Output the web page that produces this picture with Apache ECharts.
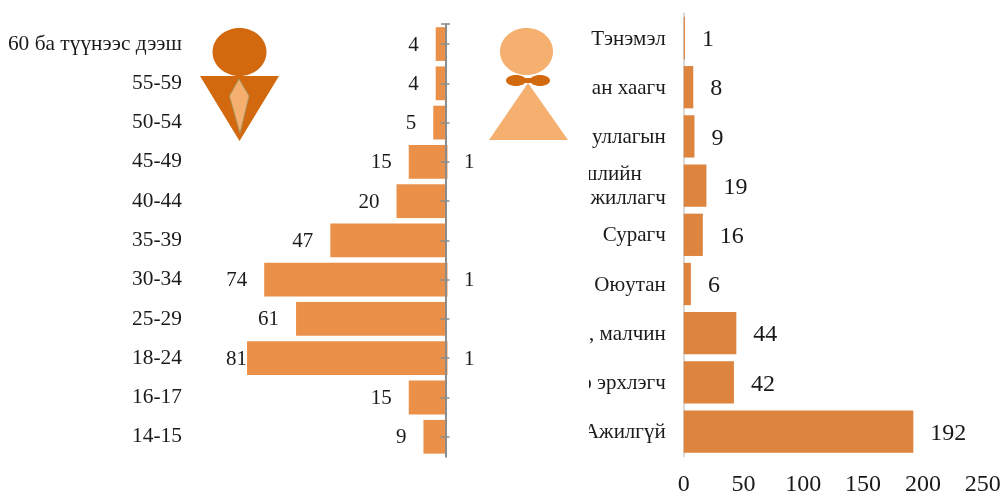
<!DOCTYPE html>
<html>
<head>
<meta charset="utf-8">
<style>
html, body { margin: 0; padding: 0; background: #fff; }
#chart { width: 1003px; height: 492px; }
</style>
<script src="https://cdn.jsdelivr.net/npm/echarts@6/dist/echarts.min.js"></script>
</head>
<body>
<div id="chart"></div>
<script>
var ageGroups = ['60 ба түүнээс дээш', '55-59', '50-54', '45-49', '40-44', '35-39', '30-34', '25-29', '18-24', '16-17', '14-15'];
var maleCounts = [4, 4, 5, 15, 20, 47, 74, 61, 81, 15, 9];
var femaleCounts = [null, null, null, 1, null, null, 1, null, 1, null, null];

var occupations = ['Тэнэмэл', 'ан хаагч', 'уллагын', 'шлийн\nжиллагч', 'Сурагч', 'Оюутан', ', малчин', 'о эрхлэгч', 'Ажилгүй'];
var occupationCounts = [1, 8, 9, 19, 16, 6, 44, 42, 192];

var serif = '"Liberation Serif", "Times New Roman", serif';
var textColor = '#1a1a1a';
var dark = '#D2690E', light = '#F5B070';
var axisGray = '#8c8c8c';

var myChart = echarts.init(document.getElementById('chart'), null, { renderer: 'canvas' });

var option = {
    animation: false,
    backgroundColor: '#fff',
    textStyle: { fontFamily: serif },
    grid: [
        { left: 200.5, width: 294, top: 24.4, height: 432, outerBoundsMode: 'none' },
        { left: 683.7, width: 299, top: 13.4, height: 442.8, outerBoundsMode: 'none' },
        // same place as the first one, only carries the inner half of the ticks
        { left: 200.5, width: 294, top: 24.4, height: 432, outerBoundsMode: 'none' }
    ],
    xAxis: [
        { gridIndex: 0, type: 'value', min: -100, max: 20, show: false },
        {
            gridIndex: 1, type: 'value', min: 0, max: 250, interval: 50,
            axisLine: { show: false }, axisTick: { show: false }, splitLine: { show: false },
            axisLabel: { color: textColor, fontSize: 24, fontFamily: serif, margin: 17 }
        },
        { gridIndex: 2, type: 'value', min: -100, max: 20, show: false }
    ],
    yAxis: [
        {
            // line with ticks at zero
            gridIndex: 0, type: 'category', position: 'left', inverse: true, data: ageGroups, z: 5,
            axisLine: { onZero: true, lineStyle: { color: axisGray, width: 2 } },
            axisTick: { show: true, alignWithLabel: true, length: 5, lineStyle: { color: axisGray, width: 1.5 } },
            axisLabel: { show: false }
        },
        {
            // labels stay at the far left of the grid
            gridIndex: 0, type: 'category', position: 'left', inverse: true, data: ageGroups,
            axisLine: { show: false, onZero: false }, axisTick: { show: false },
            axisLabel: { color: textColor, fontSize: 21.4, fontFamily: serif, margin: 18.5, padding: [2, 0, 0, 0] }
        },
        {
            gridIndex: 1, type: 'category', position: 'left', inverse: true, data: occupations,
            axisLine: { lineStyle: { color: '#d9d9d9', width: 2 } },
            axisTick: { show: false },
            axisLabel: {
                color: textColor, fontSize: 21, fontFamily: serif, margin: 18, padding: [2, 0, 0, 0],
                formatter: function (v) {
                    var parts = v.split('\n');
                    return parts.length > 1 ? '{top|' + parts[0] + '}\n{bot|' + parts[1] + '}' : v;
                },
                rich: {
                    top: { fontSize: 21, fontFamily: serif, color: textColor, padding: [0, 24, 0, 0], lineHeight: 24 },
                    bot: { fontSize: 21, fontFamily: serif, color: textColor, lineHeight: 24 }
                }
            }
        },
        {
            gridIndex: 2, type: 'category', position: 'left', inverse: true, data: ageGroups, z: 5,
            axisLine: { onZero: true, lineStyle: { color: axisGray, width: 2 } },
            axisTick: { show: true, alignWithLabel: true, inside: true, length: 4, lineStyle: { color: axisGray, width: 1.5 } },
            axisLabel: { show: false }
        }
    ],
    series: [
        {
            name: 'Эрэгтэй', type: 'bar', stack: 'age', xAxisIndex: 0, yAxisIndex: 0,
            barCategoryGap: '14%',
            data: maleCounts.map(function (v) {
                return {
                    value: -v,
                    label: { distance: v === 81 ? 0 : 17 }
                };
            }),
            itemStyle: { color: '#EB9048' },
            label: {
                show: true, position: 'left', color: textColor, fontSize: 21, fontFamily: serif, offset: [0, 1],
                formatter: function (p) { return Math.abs(p.value); }
            }
        },
        {
            name: 'Эмэгтэй', type: 'bar', stack: 'age', xAxisIndex: 0, yAxisIndex: 0,
            barCategoryGap: '14%',
            data: femaleCounts,
            itemStyle: { color: '#F8C7A0' },
            label: { show: true, position: 'right', distance: 16, color: textColor, fontSize: 21, fontFamily: serif, offset: [0, 1] }
        },
        {
            name: 'Ажил эрхлэлт', type: 'bar', xAxisIndex: 1, yAxisIndex: 2,
            barCategoryGap: '14%',
            data: occupationCounts,
            itemStyle: { color: '#DD843F' },
            label: { show: true, position: 'right', distance: 17, color: textColor, fontSize: 24, fontFamily: serif, offset: [0, 2] }
        }
    ],
    graphic: [
        // cap on top of the age axis
        { type: 'line', shape: { x1: 441, y1: 24, x2: 450, y2: 24 }, style: { stroke: axisGray, lineWidth: 1.5 }, z: 10 },
        // white strip hides what the picture cuts off
        { type: 'rect', shape: { x: 560, y: 10, width: 29, height: 450 }, style: { fill: '#fff' }, z: 100 },
        // man
        { type: 'ellipse', shape: { cx: 239.5, cy: 52, rx: 27, ry: 24 }, style: { fill: dark }, z: 120 },
        { type: 'polygon', shape: { points: [[200, 76], [279, 76], [239.5, 141]] }, style: { fill: dark }, z: 120 },
        { type: 'polygon', shape: { points: [[239, 79], [229.5, 96], [240, 133], [249, 96]] }, style: { fill: light, stroke: '#9a9a70', lineWidth: 0.8 }, z: 121 },
        // woman
        { type: 'ellipse', shape: { cx: 526.5, cy: 51.5, rx: 26.5, ry: 23.5 }, style: { fill: light }, z: 120 },
        { type: 'polygon', shape: { points: [[528, 83], [568, 140], [489, 140]] }, style: { fill: light }, z: 120 },
        { type: 'ellipse', shape: { cx: 516, cy: 80.5, rx: 10, ry: 5.5 }, style: { fill: dark }, z: 121 },
        { type: 'ellipse', shape: { cx: 540, cy: 80.5, rx: 10, ry: 5.5 }, style: { fill: dark }, z: 121 },
        { type: 'rect', shape: { x: 520, y: 78, width: 16, height: 5 }, style: { fill: dark }, z: 121 }
    ]
};
myChart.setOption(option);
</script>
</body>
</html>
